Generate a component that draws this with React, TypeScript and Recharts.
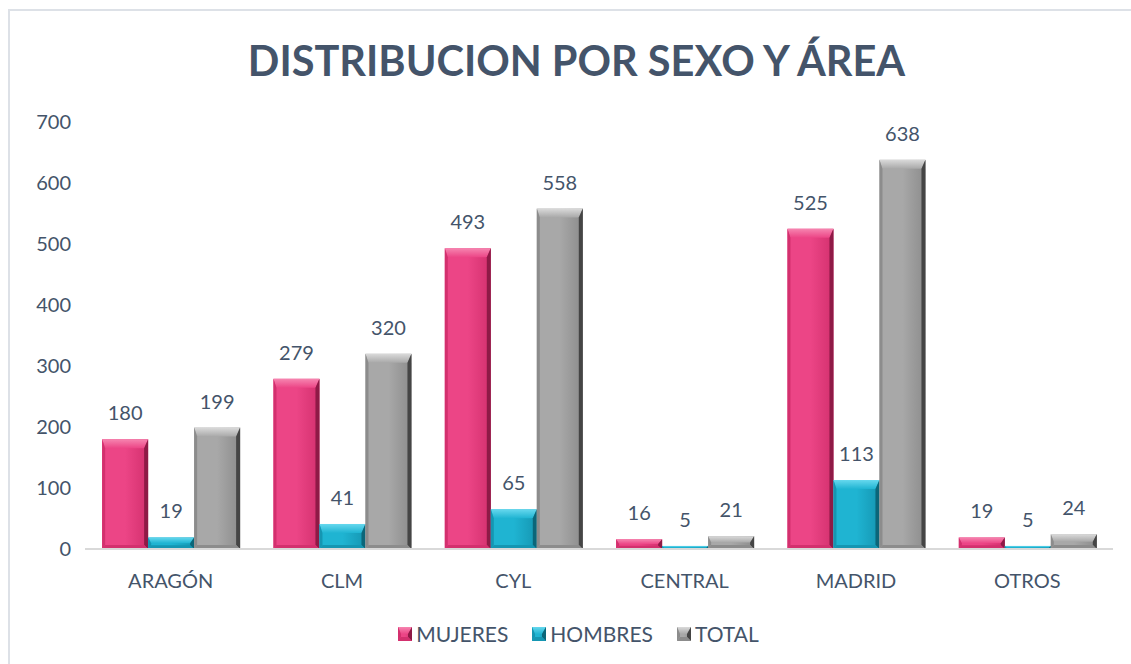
import { BarChart, Bar, XAxis, YAxis, LabelList } from "recharts";

const categories = ["ARAGÓN", "CLM", "CYL", "CENTRAL", "MADRID", "OTROS"];
const mujeres = [180, 279, 493, 16, 525, 19];
const hombres = [19, 41, 65, 5, 113, 5];
const total = [199, 320, 558, 21, 638, 24];
const yTicks = [0, 100, 200, 300, 400, 500, 600, 700];

const TEXT = "#44546a";
const FONT = "Lato, 'Open Sans', sans-serif";

const palette: Record<string, { body: string; light: string; side: string; dark: string }> = {
  pink: { body: "#ec4586", light: "#f685b0", side: "#d3306e", dark: "#8e1a46" },
  cyan: { body: "#1fb4d2", light: "#66d8ee", side: "#1596b2", dark: "#0b6679" },
  gray: { body: "#a8a8a8", light: "#dadada", side: "#8c8c8c", dark: "#454545" },
};

const chartData = categories.map((name, i) => ({
  name,
  mujeres: mujeres[i],
  hombres: hombres[i],
  total: total[i],
}));

function bevel(x: number, y: number, w: number, h: number, key: string, idSuffix = "") {
  const c = palette[key];
  const t = Math.max(0, Math.min(9, h / 2)); // top bevel
  const l = Math.max(0, Math.min(3, h / 2)); // left
  const r = Math.max(0, Math.min(4, h / 2)); // right
  const bt = Math.max(0, Math.min(4, h / 3)); // bottom
  return (
    <g>
      <rect x={x} y={y} width={w} height={h} fill={`url(#body-${key}${idSuffix})`} />
      <polygon
        points={`${x},${y} ${x + w},${y} ${x + w - r},${y + t} ${x + l},${y + t}`}
        fill={`url(#top-${key}${idSuffix})`}
      />
      <polygon points={`${x},${y} ${x + l},${y + t} ${x + l},${y + h - bt} ${x},${y + h}`} fill={c.side} />
      <polygon
        points={`${x + w},${y} ${x + w},${y + h} ${x + w - r},${y + h - bt} ${x + w - r},${y + t}`}
        fill={c.dark}
      />
      <polygon
        points={`${x},${y + h} ${x + l},${y + h - bt} ${x + w - r},${y + h - bt} ${x + w},${y + h}`}
        fill={c.side}
      />
    </g>
  );
}

function Gradients({ suffix = "" }: { suffix?: string }) {
  return (
    <>
      {Object.keys(palette).map((k) => (
        <linearGradient key={`b${k}`} id={`body-${k}${suffix}`} x1="0" y1="0" x2="1" y2="0">
          <stop offset="0%" stopColor={palette[k].body} />
          <stop offset="50%" stopColor={palette[k].body} />
          <stop offset="100%" stopColor={palette[k].side} />
        </linearGradient>
      ))}
      {Object.keys(palette).map((k) => (
        <linearGradient key={`t${k}`} id={`top-${k}${suffix}`} x1="0" y1="0" x2="0" y2="1">
          <stop offset="0%" stopColor={palette[k].light} />
          <stop offset="100%" stopColor={palette[k].body} />
        </linearGradient>
      ))}
    </>
  );
}

const makeShape = (key: string) => (props: any) => {
  const { x, y, width, height } = props;
  if (!height || height <= 0) return <g />;
  return bevel(x, y, width, height, key);
};

function LegendIcon({ k }: { k: string }) {
  return (
    <svg width={14} height={14} style={{ marginRight: 4 }}>
      <defs>
        <Gradients suffix="-lg" />
      </defs>
      {bevel(0, 0, 14, 14, k, "-lg")}
    </svg>
  );
}

const legendItems = [
  { key: "pink", label: "MUJERES" },
  { key: "cyan", label: "HOMBRES" },
  { key: "gray", label: "TOTAL" },
];

const labelStyle = { fill: TEXT, fontSize: 20, fontFamily: FONT };

export default function App() {
  return (
    <div
      style={{
        position: "fixed",
        left: 8,
        top: 9,
        width: 1125,
        height: 660,
        borderTop: "2px solid #dde1e7",
        borderLeft: "2px solid #dde1e7",
        background: "#fff",
        fontFamily: FONT,
      }}
    >
      <div
        style={{
          position: "absolute",
          top: 25,
          left: 0,
          width: 1133,
          textAlign: "center",
          fontSize: 41.5,
          fontWeight: 700,
          lineHeight: "48px",
          color: TEXT,
        }}
      >
        DISTRIBUCION POR SEXO Y ÁREA
      </div>
      <BarChart
        width={1120}
        height={640}
        data={chartData}
        margin={{ top: 111, right: 17, bottom: 46, left: 0 }}
        barCategoryGap="10%"
        barGap={0}
      >
        <defs>
          <Gradients />
        </defs>
        <XAxis
          dataKey="name"
          axisLine={{ stroke: "#d9d9d9", strokeWidth: 2 }}
          tickLine={false}
          tickSize={0}
          tickMargin={25}
          height={56}
          tick={labelStyle}
          interval={0}
        />
        <YAxis
          domain={[0, 700]}
          ticks={yTicks}
          axisLine={false}
          tickLine={false}
          tickSize={0}
          tickMargin={14}
          width={75}
          tick={labelStyle}
        />
        <Bar dataKey="mujeres" name="MUJERES" isAnimationActive={false} shape={makeShape("pink")}>
          <LabelList dataKey="mujeres" position="top" offset={19} style={labelStyle} />
        </Bar>
        <Bar dataKey="hombres" name="HOMBRES" isAnimationActive={false} shape={makeShape("cyan")}>
          <LabelList dataKey="hombres" position="top" offset={19} style={labelStyle} />
        </Bar>
        <Bar dataKey="total" name="TOTAL" isAnimationActive={false} shape={makeShape("gray")}>
          <LabelList dataKey="total" position="top" offset={19} style={labelStyle} />
        </Bar>
      </BarChart>
      <div
        style={{
          position: "absolute",
          top: 610,
          left: 0,
          width: 1137,
          display: "flex",
          justifyContent: "center",
          alignItems: "center",
          fontSize: 21,
          color: TEXT,
        }}
      >
        {legendItems.map((it) => (
          <div key={it.key} style={{ display: "flex", alignItems: "center", margin: "0 12px" }}>
            <LegendIcon k={it.key} />
            <span>{it.label}</span>
          </div>
        ))}
      </div>
    </div>
  );
}
